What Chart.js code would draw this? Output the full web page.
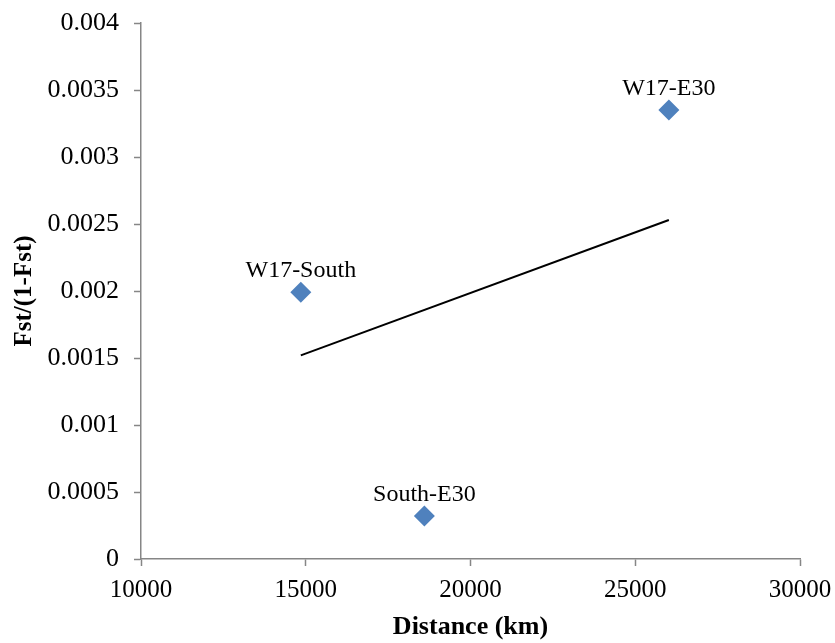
<!DOCTYPE html>
<html>
<head>
<meta charset="utf-8">
<script src="https://cdn.jsdelivr.net/npm/chart.js@4"></script>
<style>
    body { margin: 0; background: #fff; }
    #wrap { width: 835px; height: 643px; }
</style>
</head>
<body>
<div id="wrap"><canvas id="fstChart" width="835" height="643"></canvas></div>
<script>
// Pairwise comparisons
const pairNames = ['W17-South', 'South-E30', 'W17-E30'];
const distanceKm = [14850, 18600, 26020];
const fstRatio = [0.00199, 0.00032, 0.00335];

// Linear trend line end points
const trendX = [14850, 26020];
const trendY = [0.00152, 0.00253];

// Tick labels
const xTickLabels = ['10000', '15000', '20000', '25000', '30000'];
const yTickLabels = ['0', '0.0005', '0.001', '0.0015', '0.002', '0.0025', '0.003', '0.0035', '0.004'];

const serif = "'Liberation Serif', 'Times New Roman', serif";
const axisGray = '#868686';

// draw the pair name above each diamond
const pointLabels = {
    id: 'pointLabels',
    afterDatasetsDraw(chart) {
        const ctx = chart.ctx;
        const meta = chart.getDatasetMeta(0);
        ctx.save();
        ctx.font = '24px ' + serif;
        ctx.fillStyle = '#000';
        ctx.textAlign = 'center';
        ctx.textBaseline = 'alphabetic';
        meta.data.forEach((pt, i) => {
            ctx.fillText(pairNames[i], pt.x, pt.y - 15);
        });
        ctx.restore();
    }
};

new Chart(document.getElementById('fstChart'), {
    type: 'scatter',
    data: {
        datasets: [
            {
                label: 'Fst/(1-Fst)',
                data: distanceKm.map((d, i) => ({ x: d, y: fstRatio[i] })),
                pointStyle: 'rectRot',
                pointRadius: 10.5,
                pointBackgroundColor: '#4F81BD',
                pointBorderColor: '#4F81BD',
                pointBorderWidth: 0,
                showLine: false
            },
            {
                label: 'Linear',
                data: trendX.map((d, i) => ({ x: d, y: trendY[i] })),
                showLine: true,
                borderColor: '#000',
                borderWidth: 2,
                pointRadius: 0
            }
        ]
    },
    options: {
        responsive: false,
        animation: false,
        layout: { padding: { top: 23, right: 35, left: 0, bottom: 0 } },
        plugins: {
            legend: { display: false },
            tooltip: { enabled: false }
        },
        scales: {
            x: {
                type: 'linear',
                min: 10000,
                max: 30000,
                afterFit: scale => {
                    scale.height = 84;
                    scale.paddingLeft = 0;
                    scale.paddingRight = 0;
                },
                afterBuildTicks: scale => {
                    scale.ticks = xTickLabels.map(t => ({ value: Number(t) }));
                },
                ticks: {
                    callback: (v, i) => xTickLabels[i],
                    font: { family: serif, size: 25 },
                    color: '#000',
                    padding: 9,
                    maxRotation: 0
                },
                grid: {
                    drawOnChartArea: false,
                    tickLength: 7,
                    tickColor: axisGray,
                    tickWidth: 1.5
                },
                border: { color: axisGray, width: 1.5 },
                title: {
                    display: true,
                    text: 'Distance (km)',
                    font: { family: serif, size: 26, weight: 'bold' },
                    color: '#000',
                    padding: { top: 0, bottom: 0 }
                }
            },
            y: {
                min: 0,
                max: 0.004,
                afterFit: scale => {
                    scale.width = 141;
                    scale.paddingTop = 0;
                    scale.paddingBottom = 0;
                },
                afterBuildTicks: scale => {
                    scale.ticks = yTickLabels.map(t => ({ value: Number(t) }));
                },
                ticks: {
                    callback: (v, i) => yTickLabels[i],
                    font: { family: serif, size: 26 },
                    color: '#000',
                    padding: 15
                },
                grid: {
                    drawOnChartArea: false,
                    tickLength: 7,
                    tickColor: axisGray,
                    tickWidth: 1.5
                },
                border: { color: axisGray, width: 1.5 },
                title: {
                    display: true,
                    text: 'Fst/(1-Fst)',
                    font: { family: serif, size: 25, weight: 'bold' },
                    color: '#000',
                    padding: { top: 10, bottom: 0 }
                }
            }
        }
    },
    plugins: [pointLabels]
});
</script>
</body>
</html>
